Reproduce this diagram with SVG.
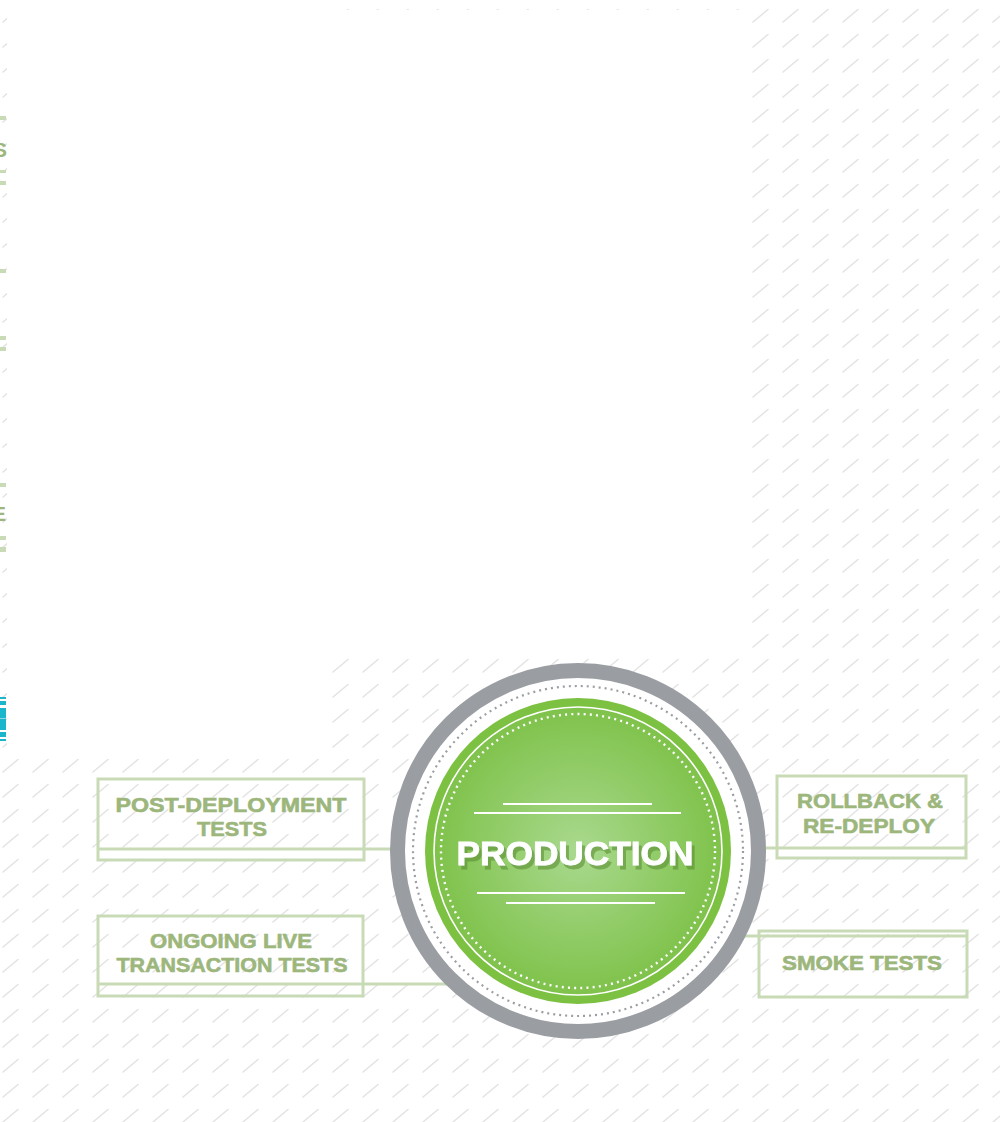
<svg xmlns="http://www.w3.org/2000/svg" width="1000" height="1122" viewBox="0 0 1000 1122">
<defs>
  <pattern id="hatch" patternUnits="userSpaceOnUse" width="30" height="25">
    <line x1="3" y1="22" x2="18" y2="9.5" stroke="#e3e3e3" stroke-width="1.6" stroke-linecap="round"/>
  </pattern>
  <radialGradient id="greenGrad" cx="50%" cy="50%" r="50%">
    <stop offset="0" stop-color="#a9d98e"/>
    <stop offset="1" stop-color="#7fc24b"/>
  </radialGradient>
  <filter id="textShadow" x="-10%" y="-30%" width="120%" height="160%">
    <feDropShadow dx="3" dy="4" stdDeviation="0.4" flood-color="#5a8f36" flood-opacity="0.6"/>
  </filter>
  <style>
    .box{fill:none;stroke:#c9dbb6;stroke-width:3}
    .conn{stroke:#c9dbb6;stroke-width:3;fill:none}
    .lbl{font-family:"Liberation Sans",Arial,sans-serif;font-weight:bold;fill:#9cb67c;stroke:#9cb67c;stroke-width:0.6;text-anchor:middle}
    .bar{fill:#c9dbb6}
    .cyan{fill:#1cb6cc}
    .frag{font-family:"Liberation Sans",Arial,sans-serif;font-weight:bold;font-size:21px;fill:#9cb67c}
  </style>
</defs>

<!-- background -->
<rect x="0" y="0" width="1000" height="1122" fill="#ffffff"/>
<rect x="0" y="0" width="1000" height="1122" fill="url(#hatch)"/>
<polygon points="7,0 345,0 345,10 745,10 745,652 330,652 330,752 7,752" fill="#ffffff"/>

<!-- left edge fragments from adjacent page -->
<g id="edge-fragments">
  <rect class="bar" x="0" y="116" width="6" height="4"/>
  <text class="frag" x="-7" y="157">S</text>
  <rect class="bar" x="0" y="170" width="6" height="3"/>
  <rect class="bar" x="0" y="181" width="6" height="4"/>
  <rect class="bar" x="0" y="269" width="6" height="4"/>
  <rect class="bar" x="0" y="336" width="6" height="4"/>
  <rect class="bar" x="0" y="347" width="6" height="4"/>
  <rect class="bar" x="0" y="483" width="6" height="4"/>
  <text class="frag" x="-8" y="521">E</text>
  <rect class="bar" x="0" y="536" width="6" height="4"/>
  <rect class="bar" x="0" y="547" width="6" height="5"/>
  <rect class="cyan" x="0" y="697" width="6" height="2"/>
  <rect class="cyan" x="0" y="701" width="6" height="4"/>
  <rect class="cyan" x="0" y="708" width="6" height="22"/>
  <rect x="0" y="718" width="6" height="1" fill="#8fd6e2"/>
  <rect class="cyan" x="0" y="732" width="6" height="5"/>
  <rect class="cyan" x="0" y="739" width="6" height="2"/>
</g>

<!-- connectors -->
<g id="connectors">
  <line class="conn" x1="365" y1="849" x2="393" y2="849"/>
  <line class="conn" x1="364" y1="984" x2="447" y2="984"/>
  <line class="conn" x1="764" y1="848" x2="776" y2="848"/>
  <line class="conn" x1="745" y1="936" x2="758" y2="936"/>
</g>

<!-- central production node -->
<g id="production">
  <circle cx="578" cy="851" r="180.5" fill="#ffffff" stroke="#9a9ea2" stroke-width="15"/>
  <circle cx="578" cy="851" r="165" fill="none" stroke="#9a9ea2" stroke-width="2.2" stroke-dasharray="2 4"/>
  <circle cx="578" cy="851" r="153" fill="#7cc142"/>
  <circle cx="578" cy="851" r="144" fill="url(#greenGrad)" stroke="#ffffff" stroke-width="1.6"/>
  <circle cx="578" cy="851" r="137" fill="none" stroke="#ffffff" stroke-width="2.4" stroke-dasharray="2 4.2"/>
  <g stroke="#ffffff" stroke-width="2">
    <line x1="503" y1="804" x2="652" y2="804"/>
    <line x1="474" y1="813" x2="681" y2="813"/>
    <line x1="477" y1="893" x2="685" y2="893"/>
    <line x1="506" y1="903" x2="655" y2="903"/>
  </g>
  <text x="575" y="865" font-family="Liberation Sans, Arial, sans-serif" font-weight="bold" font-size="34" text-anchor="middle" textLength="237" lengthAdjust="spacingAndGlyphs" fill="#ffffff" stroke="#ffffff" stroke-width="0.8" filter="url(#textShadow)">PRODUCTION</text>
</g>

<!-- post-deployment tests -->
<g id="post-deployment">
  <rect class="box" x="98" y="779" width="266" height="81"/>
  <line class="conn" x1="98" y1="849" x2="364" y2="849"/>
  <text class="lbl" x="231" y="812" font-size="20.5" textLength="231" lengthAdjust="spacingAndGlyphs">POST-DEPLOYMENT</text>
  <text class="lbl" x="232" y="836" font-size="20.5" textLength="70" lengthAdjust="spacingAndGlyphs">TESTS</text>
</g>

<!-- ongoing live transaction tests -->
<g id="ongoing">
  <rect class="box" x="98" y="916" width="265" height="80"/>
  <line class="conn" x1="98" y1="984" x2="363" y2="984"/>
  <text class="lbl" x="231" y="948" font-size="20.5" textLength="162" lengthAdjust="spacingAndGlyphs">ONGOING LIVE</text>
  <text class="lbl" x="232" y="972" font-size="20.5" textLength="231" lengthAdjust="spacingAndGlyphs">TRANSACTION TESTS</text>
</g>

<!-- rollback & re-deploy -->
<g id="rollback">
  <rect class="box" x="777" y="776" width="189" height="82"/>
  <line class="conn" x1="777" y1="848" x2="966" y2="848"/>
  <text class="lbl" x="870" y="808" font-size="20.5" textLength="146" lengthAdjust="spacingAndGlyphs">ROLLBACK &amp;</text>
  <text class="lbl" x="869" y="833" font-size="20.5" textLength="132" lengthAdjust="spacingAndGlyphs">RE-DEPLOY</text>
</g>

<!-- smoke tests -->
<g id="smoke">
  <rect class="box" x="759" y="931" width="208" height="66"/>
  <line class="conn" x1="759" y1="936" x2="967" y2="936"/>
  <text class="lbl" x="862" y="970" font-size="20.5" textLength="160" lengthAdjust="spacingAndGlyphs">SMOKE TESTS</text>
</g>
</svg>
